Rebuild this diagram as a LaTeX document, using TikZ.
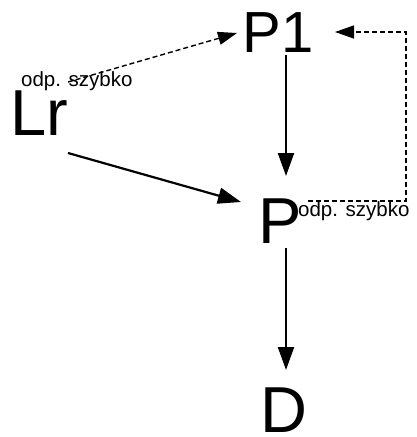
\documentclass[tikz,border=0pt]{standalone}
\usepackage{fontspec}
\setmainfont{Liberation Sans}
\usetikzlibrary{arrows.meta}
\begin{document}
\begin{tikzpicture}[x=1pt,y=-1pt,
  big/.style={inner sep=0pt,anchor=base west,font=\fontsize{65}{65}\selectfont},
  mid/.style={inner sep=0pt,anchor=base west,font=\fontsize{58}{58}\selectfont},
  small/.style={inner sep=0pt,anchor=base west,font=\fontsize{20.5}{20.5}\selectfont},
  solidarrow/.style={line width=2.2pt,-{Triangle[length=23pt,width=16pt]}},
  dasharrow/.style={line width=1.4pt,dash pattern=on 5pt off 3pt,-{Triangle[length=19pt,width=13pt]}}]
  \useasboundingbox (0,0) rectangle (417,437);
  % main labels
  \node[mid] (P1) at (242.5,52) {P1};
  \node[big] (Lr) at (10,135) {Lr};
  \node[big] (P) at (258,243) {P};
  \node[big] (D) at (260,432) {D};
  % small annotations
  \node[small] (n1) at (21,86) {odp. szybko};
  \node[small] (n2) at (298,216) {odp. szybko};
  % connector end points
  \coordinate (lrTop) at (68,82);
  \coordinate (p1In) at (237,33);
  \coordinate (lrBot) at (68,153);
  \coordinate (pIn) at (241,202);
  \coordinate (p1Out) at (286,55);
  \coordinate (pTop) at (286,176);
  \coordinate (pOut) at (286,248);
  \coordinate (dTop) at (286,370);
  \coordinate (fbStart) at (308,201);
  \coordinate (fbCorner1) at (406,201);
  \coordinate (fbCorner2) at (406,32);
  \coordinate (fbEnd) at (335,32);
  % connectors
  \draw[dasharrow] (lrTop) -- (p1In);
  \draw[solidarrow] (lrBot) -- (pIn);
  \draw[solidarrow] (p1Out) -- (pTop);
  \draw[solidarrow] (pOut) -- (dTop);
  \draw[dasharrow] (fbStart) -- (fbCorner1) -- (fbCorner2) -- (fbEnd);
\end{tikzpicture}
\end{document}
